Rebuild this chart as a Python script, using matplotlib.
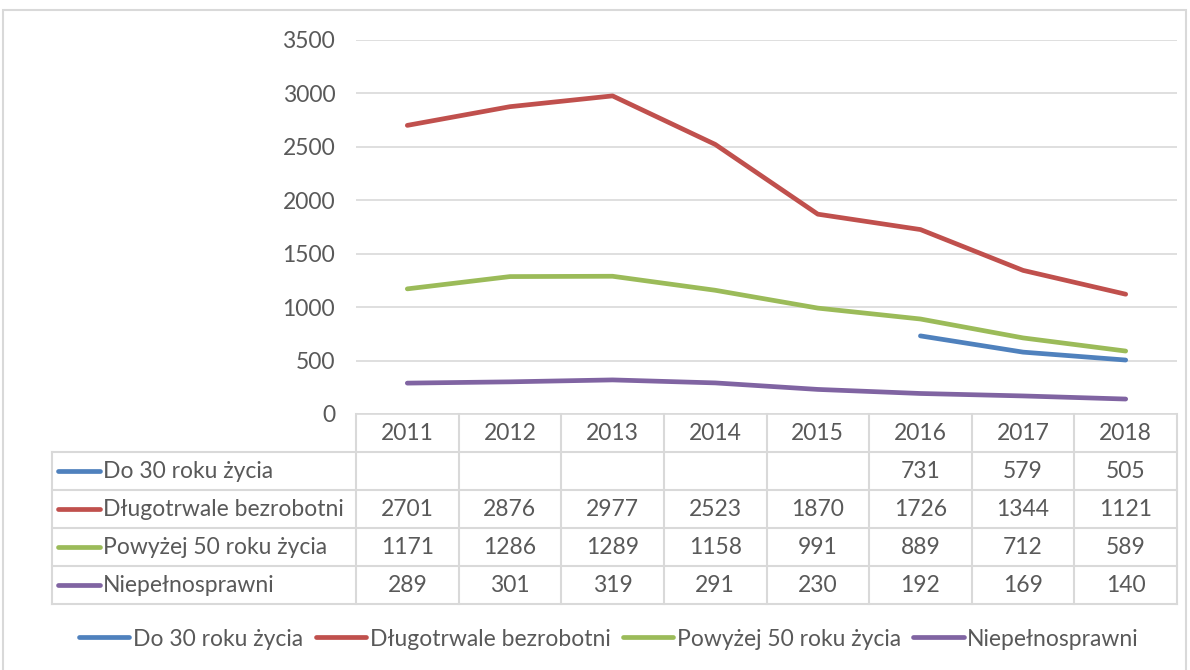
import numpy as np
import matplotlib
matplotlib.use("Agg")
import matplotlib.pyplot as plt
from matplotlib.patches import Rectangle
from matplotlib.lines import Line2D
from matplotlib.transforms import blended_transform_factory

# data
years = ["2011", "2012", "2013", "2014", "2015", "2016", "2017", "2018"]
do_30 = [None, None, None, None, None, 731, 579, 505]
dlugotrwale = [2701, 2876, 2977, 2523, 1870, 1726, 1344, 1121]
powyzej_50 = [1171, 1286, 1289, 1158, 991, 889, 712, 589]
niepelnosprawni = [289, 301, 319, 291, 230, 192, 169, 140]

series_names = ["Do 30 roku życia", "Długotrwale bezrobotni",
                "Powyżej 50 roku życia", "Niepełnosprawni"]
series_values = [do_30, dlugotrwale, powyzej_50, niepelnosprawni]
colors = ["#4F81BD", "#C0504D", "#9BBB59", "#8064A2"]

plt.rcParams["font.family"] = ["Lato", "DejaVu Sans"]
TXT = "#595959"
GRID = "#d9d9d9"
FS = 16.5
LW = 3.4

W, H = 1190, 670
fig = plt.figure(figsize=(W / 100, H / 100), dpi=100)

# plot area in pixel coords
x0, x1, ytop, ybot = 356, 1177, 40, 414
ax = fig.add_axes([x0 / W, 1 - ybot / H, (x1 - x0) / W, (ybot - ytop) / H])

x = np.arange(len(years))
for vals, c, name in zip(series_values, colors, series_names):
    y = np.array([np.nan if v is None else v for v in vals], dtype=float)
    ax.plot(x, y, color=c, lw=LW, solid_capstyle="round", label=name)

ax.set_xlim(-0.5, len(years) - 0.5)
ax.set_ylim(0, 3500)
ax.set_yticks(range(0, 3501, 500))
ax.grid(axis="y", color=GRID, lw=1.2)
ax.set_axisbelow(True)
for s in ["top", "right", "left"]:
    ax.spines[s].set_visible(False)
ax.spines["bottom"].set_color(GRID)
ax.spines["bottom"].set_linewidth(1.2)
ax.set_xticks([])
ax.tick_params(axis="y", length=0, pad=15, labelsize=FS, labelcolor=TXT)

# data table under the axis
tr = blended_transform_factory(ax.transData, ax.transAxes)
row_h = 38 / (ybot - ytop)
n_rows = len(series_names)
px = (x1 - x0) / len(years)
x_left = -0.5 - (x0 - 52) / px
x_right = len(years) - 0.5
line_kw = dict(color=GRID, lw=1.5, transform=tr, clip_on=False)

y_bottom_tbl = -row_h * (n_rows + 1)
# horizontal lines
for r in range(1, n_rows + 2):
    yy = -row_h * r
    ax.add_line(Line2D([x_left, x_right], [yy, yy], **line_kw))
# vertical lines
for i in range(len(years) + 1):
    xx = i - 0.5
    ax.add_line(Line2D([xx, xx], [0, y_bottom_tbl], **line_kw))
ax.add_line(Line2D([x_left, x_left], [-row_h, y_bottom_tbl], **line_kw))

# header
for i, yr in enumerate(years):
    ax.text(i, -row_h * 0.5, yr, transform=tr, ha="center", va="center",
            fontsize=FS, color=TXT)

# rows
for r, (name, vals, c) in enumerate(zip(series_names, series_values, colors)):
    yc = -row_h * (r + 1.5)
    kx0 = x_left + 6 / px
    kx1 = x_left + 48 / px
    ax.add_line(Line2D([kx0, kx1], [yc, yc], color=c, lw=LW,
                       solid_capstyle="round", transform=tr, clip_on=False))
    ax.text(x_left + 51 / px, yc, name, transform=tr, ha="left", va="center",
            fontsize=FS, color=TXT)
    for i, v in enumerate(vals):
        if v is not None:
            ax.text(i, yc, str(v), transform=tr, ha="center", va="center",
                    fontsize=FS, color=TXT)

# legend
handles, labels = ax.get_legend_handles_labels()
fig.legend(handles, labels, loc="center", bbox_to_anchor=(609 / W, 1 - 639 / H),
           ncol=4, frameon=False, fontsize=FS, labelcolor=TXT,
           handlelength=2.2, handletextpad=0.15, columnspacing=0.55)

# outer chart border
fig.add_artist(Rectangle((3 / W, -0.01), (1186 - 3) / W, 1 - 10 / H + 0.01,
                         transform=fig.transFigure, fill=False,
                         edgecolor=GRID, lw=1.5))

fig.savefig("out.png", dpi=100)
